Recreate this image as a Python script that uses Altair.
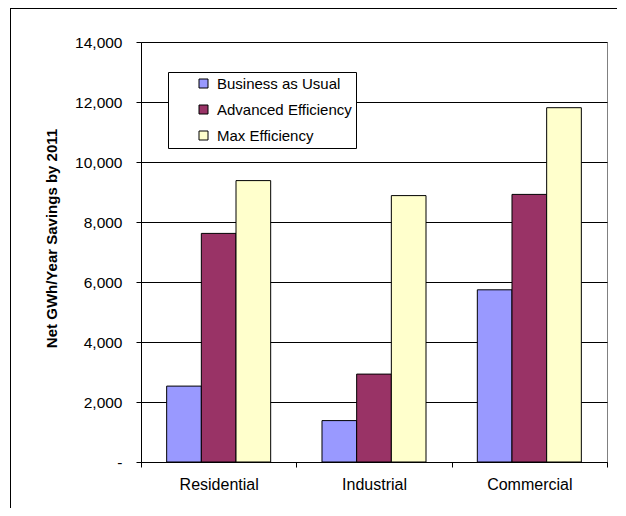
import altair as alt
import pandas as pd

sectors = ["Residential", "Industrial", "Commercial"]
scenarios = ["Business as Usual", "Advanced Efficiency", "Max Efficiency"]
bau = [2530, 1380, 5740]
advanced = [7620, 2930, 8920]
max_eff = [9380, 8880, 11810]
colors = ["#9999FF", "#993366", "#FFFFCC"]
y_ticks = [0, 2000, 4000, 6000, 8000, 10000, 12000, 14000]

rows = []
for i, s in enumerate(sectors):
    for scen, vals in zip(scenarios, [bau, advanced, max_eff]):
        rows.append({"Sector": s, "Scenario": scen, "Value": vals[i]})
df = pd.DataFrame(rows)

FONT = "Liberation Sans"

bars = alt.Chart(df).mark_bar(stroke="black", strokeWidth=1).encode(
    x=alt.X("Sector:N", sort=sectors,
            scale=alt.Scale(paddingInner=0, paddingOuter=0),
            axis=alt.Axis(title=None, labelAngle=0, tickBand="extent",
                          tickSize=5, tickColor="black", domainColor="black",
                          labelFont=FONT, labelFontSize=16, labelColor="black",
                          labelPadding=9, grid=False)),
    xOffset=alt.XOffset("Scenario:N", sort=scenarios,
                        scale=alt.Scale(paddingInner=0, paddingOuter=0.74)),
    y=alt.Y("Value:Q",
            scale=alt.Scale(domain=[0, 14000], nice=False),
            axis=alt.Axis(title="Net GWh/Year Savings by 2011", values=y_ticks,
                          labelExpr="datum.value == 0 ? '-' : format(datum.value, ',')",
                          labelFont=FONT, labelFontSize=15.5, labelColor="black",
                          labelPadding=14, tickSize=5, tickColor="black",
                          domainColor="black", gridColor="black", gridWidth=1,
                          titleFont=FONT, titleFontSize=15, titleFontWeight="bold",
                          titleColor="black", titleX=-90, titleY=196,
                          titleAlign="center", titleBaseline="middle", titleAngle=270)),
    color=alt.Color("Scenario:N", sort=scenarios,
                    scale=alt.Scale(domain=scenarios, range=colors),
                    legend=alt.Legend(title=None, orient="none", legendX=27, legendY=30,
                                      strokeColor="black", fillColor="white", padding=4,
                                      symbolType="square", symbolSize=81,
                                      symbolStrokeColor="black", symbolStrokeWidth=1,
                                      symbolOffset=24, labelOffset=6,
                                      labelFont=FONT, labelFontSize=15, labelColor="black",
                                      rowPadding=10, labelLimit=300)),
)

frame_left = alt.Chart(df).mark_rule(color="black", strokeWidth=1).encode(
    x=alt.value(-130.5), y=alt.value(-33.5), y2=alt.value(466))
frame_top = alt.Chart(df).mark_rule(color="black", strokeWidth=1).encode(
    x=alt.value(-130.5), x2=alt.value(485), y=alt.value(-33.5))

chart = alt.layer(bars, frame_left, frame_top).properties(
    width=466, height=420,
    autosize=alt.AutoSizeParams(type="none"),
    padding={"left": 133, "top": 34, "right": 10, "bottom": 46},
    background="white",
).configure_view(stroke="#808080", strokeWidth=1)

chart.save("out.html", embed_options={"renderer": "svg", "actions": False})
